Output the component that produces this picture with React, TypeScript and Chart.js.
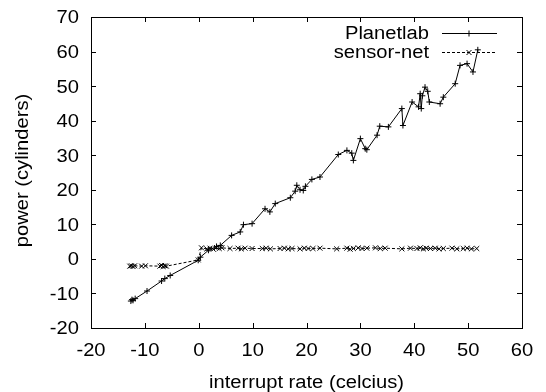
import React, { useEffect, useRef } from "react";
import { Chart, registerables } from "chart.js";

Chart.register(...registerables);

const planetlabX = [-12.6, -12.4, -12.2, -11.8, -9.6, -6.9, -6.3, -5.3, -0.1, 0.3, 1.8, 3.3, 4.0, 6.1, 7.7, 8.3, 9.9, 12.3, 13.2, 14.2, 17.0, 17.9, 18.2, 18.8, 19.4, 19.8, 21.0, 22.5, 25.9, 27.5, 28.4, 28.7, 30.0, 30.9, 31.2, 33.1, 33.6, 35.2, 37.7, 37.9, 39.6, 40.8, 41.1, 41.3, 41.5, 42.0, 42.5, 42.8, 44.8, 45.4, 47.6, 48.5, 49.8, 50.9, 51.8];
const planetlabY = [-12.2, -11.8, -12.0, -11.5, -9.3, -6.4, -5.7, -4.8, -0.4, 0.5, 2.5, 3.6, 3.9, 6.8, 7.8, 9.9, 10.2, 14.5, 13.6, 16.0, 17.7, 19.6, 21.3, 20.0, 19.8, 21.0, 23.0, 23.7, 30.2, 31.4, 30.6, 28.5, 34.8, 31.9, 31.6, 35.8, 38.4, 38.2, 43.5, 38.6, 45.4, 44.0, 47.8, 43.5, 47.2, 49.7, 48.5, 45.4, 44.9, 46.8, 50.7, 56.0, 56.5, 54.1, 60.5];

const sensorX = [-12.8, -12.5, -12.2, -11.9, -10.6, -9.9, -7.2, -6.9, -6.6, -6.3, -6.0, -0.1, 0.5, 1.5, 2.1, 2.7, 3.3, 3.8, 4.3, 5.8, 7.3, 7.9, 8.6, 9.9, 11.8, 12.5, 13.3, 15.1, 15.9, 16.6, 17.3, 18.8, 19.6, 20.3, 21.2, 22.5, 25.6, 27.5, 28.1, 28.7, 29.6, 30.3, 31.2, 32.8, 33.7, 34.6, 37.7, 39.3, 40.5, 41.1, 41.7, 42.2, 43.0, 43.9, 44.6, 45.4, 47.0, 47.9, 49.1, 49.8, 50.6, 51.6];
const sensorY = [-2.1, -2.0, -2.2, -2.0, -2.1, -2.0, -2.1, -1.9, -2.2, -2.0, -2.1, -0.3, 3.2, 2.9, 3.1, 2.8, 3.3, 3.0, 3.2, 3.0, 3.1, 2.9, 3.1, 3.0, 3.0, 3.1, 2.9, 3.0, 3.1, 2.9, 3.0, 2.9, 3.1, 3.0, 3.0, 3.1, 2.9, 3.1, 2.8, 3.0, 3.2, 3.0, 3.1, 3.2, 3.0, 3.1, 2.9, 3.1, 3.0, 3.2, 2.9, 3.1, 3.0, 3.1, 2.9, 3.0, 3.1, 2.9, 3.0, 3.1, 2.9, 3.0];

const seriesNames = ["Planetlab", "sensor-net"];
const xTitle = "interrupt rate (celcius)";
const yTitle = "power (cylinders)";
const xMin = -20, xMax = 60, xStep = 10;
const yMin = -20, yMax = 70, yStep = 10;

const FONT = "'Liberation Sans', Arial, Helvetica, sans-serif";
const FS = 18;
const SX = 1.12;

function drawText(ctx: any, text: string, x: number, y: number, align: string, rot = 0) {
  ctx.save();
  ctx.translate(x, y);
  if (rot) ctx.rotate(rot);
  ctx.scale(SX, 1);
  ctx.textAlign = align;
  ctx.textBaseline = "alphabetic";
  ctx.fillText(text, 0, 0);
  ctx.restore();
}

const frameAndLegend = {
  id: "frameAndLegend",
  afterDraw(chart: any) {
    const { ctx, chartArea } = chart;
    const { left, right, top, bottom } = chartArea;
    const xs = chart.scales.x;
    const ys = chart.scales.y;
    ctx.save();
    ctx.strokeStyle = "#000";
    ctx.fillStyle = "#000";
    ctx.lineWidth = 1;
    ctx.setLineDash([]);
    ctx.font = FS + "px " + FONT;
    const tl = 5;
    const capHalf = (0.716 * FS) / 2;
    ctx.beginPath();
    for (let v = xMin; v <= xMax; v += xStep) {
      const px = Math.round(xs.getPixelForValue(v)) + 0.5;
      ctx.moveTo(px, bottom);
      ctx.lineTo(px, bottom - tl);
      ctx.moveTo(px, top);
      ctx.lineTo(px, top + tl);
    }
    for (let v = yMin; v <= yMax; v += yStep) {
      const py = Math.round(ys.getPixelForValue(v)) + 0.5;
      ctx.moveTo(left, py);
      ctx.lineTo(left + tl, py);
      ctx.moveTo(right, py);
      ctx.lineTo(right - tl, py);
    }
    ctx.stroke();
    ctx.strokeRect(Math.round(left) + 0.5, Math.round(top) + 0.5, Math.round(right - left), Math.round(bottom - top));

    // tick labels
    for (let v = xMin; v <= xMax; v += xStep) {
      drawText(ctx, String(v), xs.getPixelForValue(v), 356, "center");
    }
    for (let v = yMin; v <= yMax; v += yStep) {
      drawText(ctx, String(v), 79, ys.getPixelForValue(v) + capHalf, "right");
    }
    // axis titles
    drawText(ctx, xTitle, (left + right) / 2, 388, "center");
    drawText(ctx, yTitle, 28, (top + bottom) / 2 - 2, "center", -Math.PI / 2);

    // legend
    const rows = [32.5, 52];
    const textRight = 429;
    const lx0 = 442, lx1 = 497, mx = 469;
    rows.forEach((ry, i) => {
      drawText(ctx, seriesNames[i], textRight, ry + capHalf, "right");
      const cy = Math.round(ry) + 0.5;
      ctx.beginPath();
      ctx.setLineDash(i === 0 ? [] : [3, 2]);
      ctx.moveTo(lx0, cy);
      ctx.lineTo(lx1, cy);
      ctx.stroke();
      ctx.setLineDash([]);
      ctx.beginPath();
      if (i === 0) {
        ctx.moveTo(mx - 3, cy);
        ctx.lineTo(mx + 3, cy);
        ctx.moveTo(mx, cy - 3);
        ctx.lineTo(mx, cy + 3);
      } else {
        ctx.moveTo(mx - 2.5, cy - 2.5);
        ctx.lineTo(mx + 2.5, cy + 2.5);
        ctx.moveTo(mx - 2.5, cy + 2.5);
        ctx.lineTo(mx + 2.5, cy - 2.5);
      }
      ctx.stroke();
    });
    ctx.restore();
  },
};

export default function App() {
  const ref = useRef<HTMLCanvasElement>(null);
  useEffect(() => {
    if (!ref.current) return;
    const planet = planetlabX.map((x, i) => ({ x, y: planetlabY[i] }));
    const sensor = sensorX.map((x, i) => ({ x, y: sensorY[i] }));
    const chart = new Chart(ref.current, {
      type: "scatter",
      data: {
        datasets: [
          {
            label: seriesNames[0],
            data: planet,
            showLine: true,
            borderColor: "#000",
            backgroundColor: "#000",
            borderWidth: 1,
            pointStyle: "cross",
            pointRadius: 3,
            pointBorderWidth: 1,
            pointBorderColor: "#000",
          },
          {
            label: seriesNames[1],
            data: sensor,
            showLine: true,
            borderColor: "#000",
            backgroundColor: "#000",
            borderWidth: 1,
            borderDash: [3, 2],
            pointStyle: "crossRot",
            pointRadius: 3.5,
            pointBorderWidth: 1,
            pointBorderColor: "#000",
          },
        ],
      },
      options: {
        responsive: false,
        animation: false,
        events: [],
        layout: { padding: { top: 17, right: 24, left: 0, bottom: 0 } },
        plugins: { legend: { display: false }, tooltip: { enabled: false } },
        scales: {
          x: {
            type: "linear",
            min: xMin,
            max: xMax,
            grid: { display: false, drawTicks: false },
            border: { display: false },
            ticks: { display: false, stepSize: xStep },
            afterFit: (s: any) => { s.height = 64; },
          },
          y: {
            type: "linear",
            min: yMin,
            max: yMax,
            grid: { display: false, drawTicks: false },
            border: { display: false },
            ticks: { display: false, stepSize: yStep },
            afterFit: (s: any) => { s.width = 91; },
          },
        },
      },
      plugins: [frameAndLegend],
    });
    return () => chart.destroy();
  }, []);
  return (
    <div style={{ position: "absolute", left: 0, top: 0, width: 546, height: 392, background: "#fff" }}>
      <canvas ref={ref} width={546} height={392} style={{ display: "block" }} />
    </div>
  );
}
